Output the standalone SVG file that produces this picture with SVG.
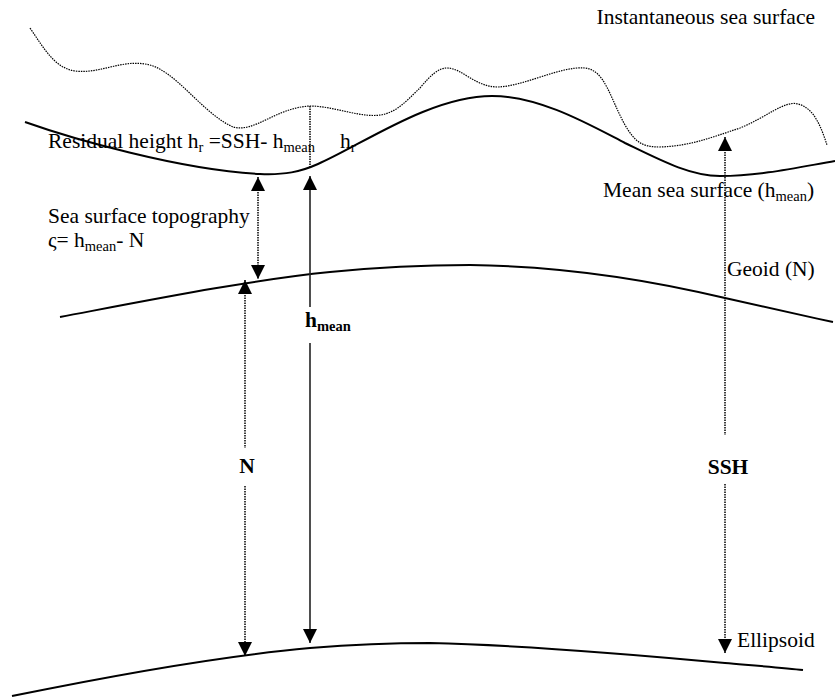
<svg xmlns="http://www.w3.org/2000/svg" width="835" height="700" viewBox="0 0 835 700">
<style>
text{font-family:"Liberation Serif","Times New Roman",serif;font-size:21.5px;fill:#000}
.b{font-weight:bold}
.sub{font-size:14.5px}
.surf{fill:none;stroke:#000;stroke-width:2}
.inst{fill:none;stroke:#000;stroke-width:1.2;stroke-dasharray:1.5 1}
.dot{fill:none;stroke:#000;stroke-width:1.5;stroke-dasharray:1.5 1}
.sol{fill:none;stroke:#222;stroke-width:1.6}
</style>
<defs>
<marker id="ah" markerUnits="userSpaceOnUse" markerWidth="14" markerHeight="14" refX="14" refY="7" orient="auto-start-reverse" viewBox="0 0 14 14">
<path d="M0,0 L14,7 L0,14 z" fill="#000"/>
</marker>
</defs>
<rect width="835" height="700" fill="#fff"/>
<g id="instantaneous-sea-surface">
<path class="inst" d="M30,28 C45,50 55,68 75,71 C100,74 120,60 145,64 C175,68 200,112 233,127 C255,133 275,108 310,106 C335,106 365,120 385,114 C400,110 412,95 420,88 C430,76 438,68 447,68 C462,68 475,87 498,87 C525,86 560,66 585,68 C605,70 610,98 625,125 C635,142 642,147 660,147 C690,146 710,138 740,128 C765,118 785,100 798,104 C815,108 822,130 827,145"/>
<text x="815" y="24" text-anchor="end">Instantaneous sea surface</text>
</g>
<g id="mean-sea-surface">
<path class="surf" d="M25,122 C70,138 180,170 260,174 C285,175 300,172 318,164 C360,146 430,96 492,96 C540,96 590,125 625,143 C660,160 690,176 720,176 C760,176 800,167 835,161"/>
<text x="603" y="197">Mean sea surface (h<tspan class="sub" dy="4">mean</tspan><tspan dy="-4">)</tspan></text>
</g>
<g id="geoid">
<path class="surf" d="M60,317 C150,300 250,280 330,272 C380,267 420,265 470,265 C560,266 650,280 725,298 C770,308 800,315 833,322"/>
<text x="727" y="276">Geoid (N)</text>
</g>
<g id="ellipsoid">
<path class="surf" d="M12,696 C100,678 220,656 310,648 C360,644 390,643 430,643 C520,645 640,655 725,663 C760,666 785,668 803,670"/>
<text x="737" y="647">Ellipsoid</text>
</g>
<g id="residual-height-label">
<text x="48" y="148">Residual height h<tspan class="sub" dy="4">r</tspan><tspan dy="-4"> =SSH- h</tspan><tspan class="sub" dy="4">mean</tspan></text>
<text x="340" y="148">h<tspan class="sub" dy="4">r</tspan></text>
</g>
<g id="sea-surface-topography-label">
<text x="48" y="223">Sea surface topography</text>
<text x="48" y="247">ς= h<tspan class="sub" dy="4">mean</tspan><tspan dy="-4">- N</tspan></text>
</g>
<g id="connectors">
<line class="dot" x1="310" y1="106" x2="310" y2="168"/>
<line class="dot" x1="258" y1="177" x2="258" y2="279" marker-start="url(#ah)" marker-end="url(#ah)"/>
<line class="dot" x1="245" y1="280" x2="245" y2="448" marker-start="url(#ah)"/>
<line class="dot" x1="245" y1="486" x2="245" y2="656" marker-end="url(#ah)"/>
<line class="sol" x1="310" y1="176" x2="310" y2="307" marker-start="url(#ah)"/>
<line class="sol" x1="310" y1="343" x2="310" y2="643" marker-end="url(#ah)"/>
<line class="dot" x1="725" y1="137" x2="725" y2="435" marker-start="url(#ah)"/>
<line class="dot" x1="725" y1="484" x2="725" y2="653" marker-end="url(#ah)"/>
</g>
<g id="labels">
<text class="b" x="247" y="473" text-anchor="middle">N</text>
<text class="b" x="305" y="327">h<tspan class="sub" dy="4">mean</tspan></text>
<text class="b" x="728" y="474" text-anchor="middle">SSH</text>
</g>
</svg>
